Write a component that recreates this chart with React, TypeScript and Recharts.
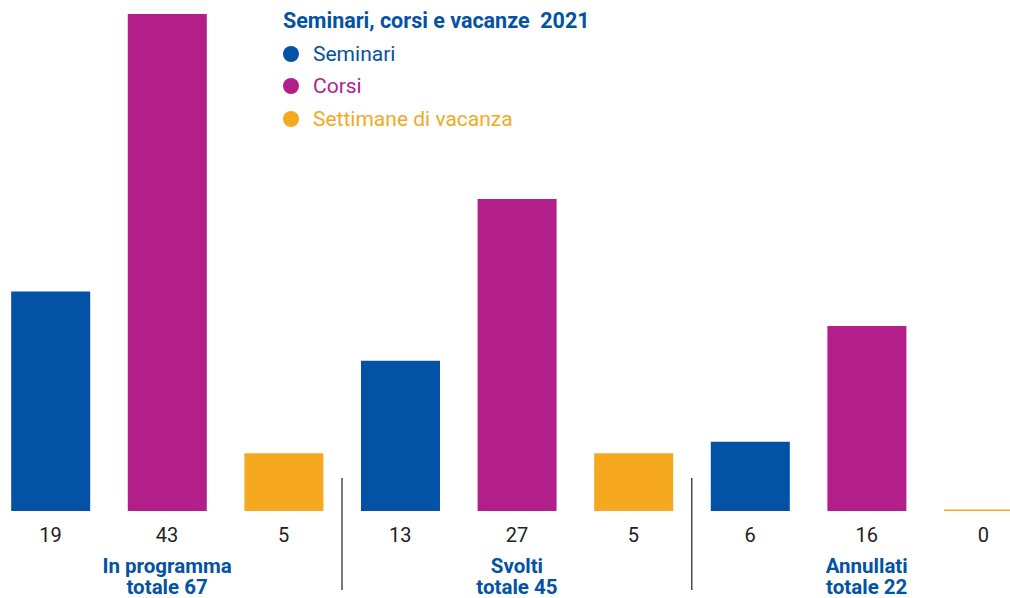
import { Bar, BarChart, Cell, XAxis, YAxis } from "recharts";

const GROUPS = ["In programma", "Svolti", "Annullati"];
const TOTALS = [67, 45, 22];
const SERIES = ["Seminari", "Corsi", "Settimane di vacanza"];
const SEMINARI = [19, 13, 6];
const CORSI = [43, 27, 16];
const VACANZE = [5, 5, 0];

const TITLE = "Seminari, corsi e vacanze  2021";

const BLUE = "#0452a5";
const COLORS = [BLUE, "#b31f8a", "#f6a81f"];
const FONT = "Roboto, 'DejaVu Sans', sans-serif";

const rows = GROUPS.flatMap((g, gi) =>
  [SEMINARI[gi], CORSI[gi], VACANZE[gi]].map((value, si) => ({
    idx: gi * 3 + si,
    value,
    series: si,
    group: gi,
  }))
);

// integer ticks carry the value labels, the .5 ones are the group separators
const TICKS = rows.flatMap((r) => (r.series === 2 && r.group < 2 ? [r.idx, r.idx + 0.5] : [r.idx]));

function Tick(props: any) {
  const { x, y, payload } = props;
  const v = payload.value as number;
  const top = y - 8; // plot baseline
  if (v % 1 !== 0) {
    return <line x1={x} x2={x} y1={top - 33} y2={top + 79} stroke="#333" strokeWidth={1.3} />;
  }
  const row = rows[v];
  return (
    <g>
      <text x={x} y={top + 24} textAnchor="middle" dominantBaseline="central" fill="#222" fontSize={20} fontFamily={FONT}>
        {row.value}
      </text>
      {row.series === 1 && (
        <text textAnchor="middle" fill={BLUE} fontSize={20.5} fontWeight={700} fontFamily={FONT}>
          <tspan x={x} y={top + 62}>{GROUPS[row.group]}</tspan>
          <tspan x={x} y={top + 83}>{`totale ${TOTALS[row.group]}`}</tspan>
        </text>
      )}
    </g>
  );
}

function LegendBox() {
  return (
    <div
      style={{
        position: "absolute",
        left: 283,
        top: 5,
        fontFamily: FONT,
        fontSize: 21,
        lineHeight: "32.5px",
      }}
    >
      <div style={{ color: BLUE, fontWeight: 700, whiteSpace: "pre", fontSize: 21.5 }}>{TITLE}</div>
      {SERIES.map((s, i) => (
        <div key={s} style={{ color: COLORS[i], display: "flex", alignItems: "center" }}>
          <span
            style={{
              display: "inline-block",
              width: 16,
              height: 16,
              borderRadius: "50%",
              background: COLORS[i],
              marginRight: 14,
            }}
          />
          {s}
        </div>
      ))}
    </div>
  );
}

export default function App() {
  return (
    <div style={{ position: "absolute", left: 0, top: 0, width: 1010, height: 598, background: "#fff" }}>
      <BarChart width={1010} height={598} data={rows} margin={{ top: 14, right: 0, left: 0, bottom: 0 }}>
        <XAxis
          dataKey="idx"
          type="number"
          domain={[-0.433, 8.229]}
          ticks={TICKS}
          tick={<Tick />}
          axisLine={false}
          tickLine={false}
          height={87}
          interval={0}
        />
        <YAxis hide domain={[0, 43]} />
        <Bar
          dataKey="value"
          barSize={79}
          isAnimationActive={false}
          minPointSize={(v: number) => (v === 0 ? 1.5 : 0)}
        >
          {rows.map((r) => (
            <Cell key={r.idx} fill={COLORS[r.series]} />
          ))}
        </Bar>
      </BarChart>
      <LegendBox />
    </div>
  );
}
